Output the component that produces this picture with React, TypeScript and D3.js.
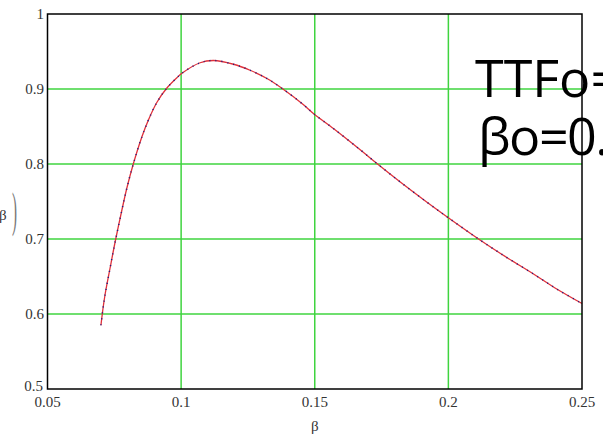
import React from "react";
import * as d3 from "d3";

const betaVals = [0.07, 0.0705, 0.0715, 0.0734, 0.0753, 0.0778, 0.0797, 0.0821, 0.0853, 0.0878, 0.0909, 0.0946, 0.0984, 0.1003, 0.1071, 0.1121, 0.1196, 0.1258, 0.1321, 0.1377, 0.1458, 0.1496, 0.1571, 0.167, 0.1735, 0.182, 0.192, 0.2001, 0.2117, 0.222, 0.232, 0.2407, 0.25];
const ttfVals = [0.585, 0.6, 0.625, 0.661, 0.696, 0.738, 0.768, 0.8, 0.836, 0.859, 0.882, 0.901, 0.915, 0.921, 0.935, 0.938, 0.933, 0.925, 0.914, 0.901, 0.879, 0.867, 0.847, 0.819, 0.8, 0.776, 0.749, 0.728, 0.699, 0.675, 0.653, 0.633, 0.614];
const xTicks = [0.05, 0.1, 0.15, 0.2, 0.25];
const xTickLabels = ["0.05", "0.1", "0.15", "0.2", "0.25"];
const yTicks = [0.5, 0.6, 0.7, 0.8, 0.9, 1];
const yTickLabels = ["0.5", "0.6", "0.7", "0.8", "0.9", "1"];
const annotationLines = ["TTFo=", "βo=0.1"];

export default function App() {
  const W = 603, H = 437;
  const left = 47.5, right = 582, top = 14, bottom = 389;
  const x = d3.scaleLinear().domain([0.05, 0.25]).range([left, right]);
  const y = d3.scaleLinear().domain([0.5, 1]).range([bottom, top]);
  const pts: [number, number][] = betaVals.map((b, i) => [b, ttfVals[i]]);
  const line = d3.line<[number, number]>().x(d => x(d[0])).y(d => y(d[1])).curve(d3.curveCatmullRom.alpha(0.5));
  const path = line(pts) || "";
  const grid = "#3fd43f";
  const tickFont = "'Liberation Serif', 'Times New Roman', serif";
  return (
    <svg width={W} height={H} style={{ position: "absolute", left: 0, top: 0, background: "#fff" }}>
      <rect x={0} y={0} width={W} height={H} fill="#fff" />
      {xTicks.slice(1, -1).map(t => (
        <line key={"gx" + t} x1={x(t)} x2={x(t)} y1={top} y2={bottom} stroke={grid} strokeWidth={1.5} />
      ))}
      {yTicks.slice(1, -1).map(t => (
        <line key={"gy" + t} x1={left} x2={right} y1={y(t)} y2={y(t)} stroke={grid} strokeWidth={1.5} />
      ))}
      {annotationLines.map((s, i) => (
        <text key={s} x={i === 0 ? 475 : 478} y={97 + i * 58} fontFamily="'Open Sans', 'Noto Sans', sans-serif" fontSize={52} letterSpacing={i === 0 ? 0 : -1.5} fill="#000">{s}</text>
      ))}
      <path d={path} fill="none" stroke="#e0303a" strokeWidth={1.3} />
      <path d={path} fill="none" stroke="#1a1a80" strokeWidth={1.5} strokeDasharray="1 5" />
      <rect x={left} y={top} width={right - left} height={bottom - top} fill="none" stroke="#000" strokeWidth={1.5} />
      {yTicks.map((t, i) => (
        <text key={"yl" + t} x={i === 0 ? 43 : 44} y={i === 0 ? y(t) + 2 : y(t) + 5} textAnchor="end" fontFamily={tickFont} fontSize={15} fill="#333">{yTickLabels[i]}</text>
      ))}
      {xTicks.map((t, i) => (
        <text key={"xl" + t} x={x(t)} y={407} textAnchor="middle" fontFamily={tickFont} fontSize={15} fill="#333">{xTickLabels[i]}</text>
      ))}
      <text x={x(0.15)} y={431} textAnchor="middle" fontFamily={tickFont} fontSize={15} fill="#333">β</text>
      <text x={-1} y={220} fontFamily={tickFont} fontSize={15} fill="#333">β</text>
      <text x={0} y={0} transform="translate(12,226) scale(1,3.2)" fontFamily={tickFont} fontSize={15} fill="#777">)</text>
    </svg>
  );
}
